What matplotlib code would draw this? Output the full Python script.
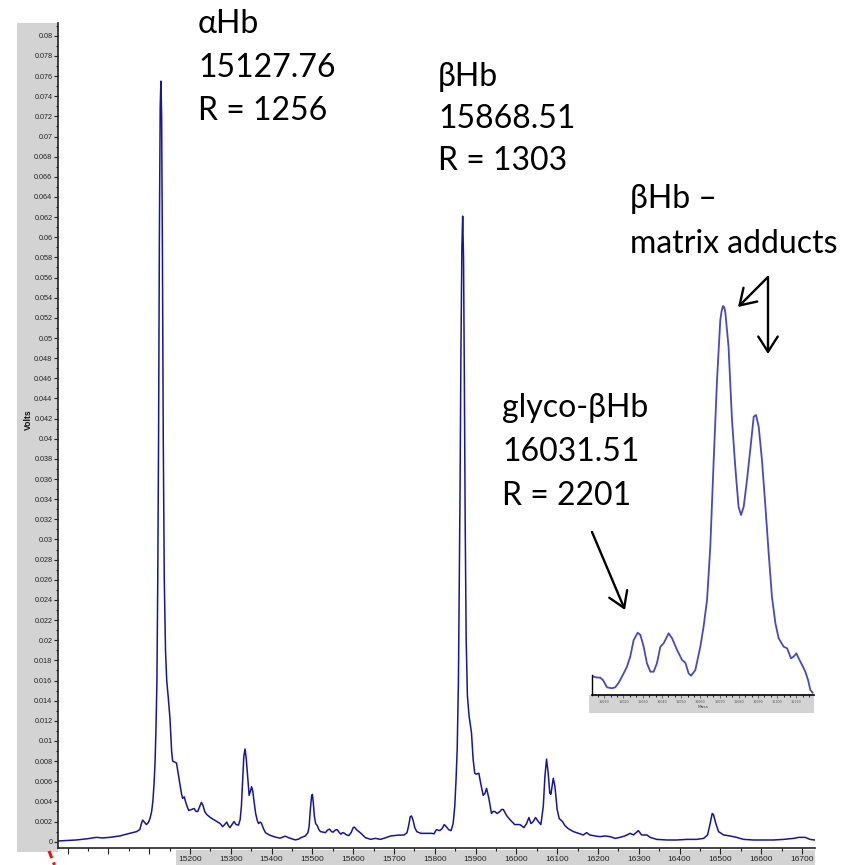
import matplotlib
matplotlib.use("Agg")
import matplotlib.pyplot as plt
from matplotlib.patches import Rectangle, FancyArrowPatch
from matplotlib.lines import Line2D
from matplotlib.ticker import MultipleLocator, FixedLocator, AutoMinorLocator, FuncFormatter

# ---------------- spectrum data (mass in Da, signal in Volts) ----------------
mass = [
    14876, 14900, 14921, 14950, 14965, 14972, 14985, 15003, 15028, 15052,
    15069, 15077, 15081, 15084, 15088, 15093, 15098, 15102, 15106, 15109,
    15112, 15114.5, 15116.5, 15119, 15121, 15123, 15125, 15127, 15128.8, 15130.5,
    15132.5, 15134.5, 15137, 15140, 15143, 15147, 15151, 15155, 15157.5, 15163,
    15167, 15171, 15175, 15179, 15182, 15186, 15189, 15193, 15197, 15204,
    15210, 15215, 15219, 15224, 15228, 15232, 15236, 15241, 15250, 15258,
    15266, 15274, 15280, 15285, 15290, 15294, 15298, 15303, 15308, 15313,
    15319, 15323, 15326, 15329, 15332, 15335, 15338, 15342, 15345, 15348,
    15351, 15354, 15357, 15361, 15365, 15368, 15372, 15375, 15380, 15385,
    15395, 15410, 15421, 15433, 15445, 15458, 15466, 15472, 15483, 15489,
    15492, 15495, 15498, 15500, 15502, 15505, 15508, 15512, 15516, 15520,
    15532, 15537, 15542, 15547, 15551, 15556, 15561, 15566, 15570, 15574,
    15578, 15583, 15589, 15595, 15600, 15603, 15608, 15614, 15620, 15630,
    15643, 15650, 15655, 15667, 15680, 15692, 15710, 15725, 15732, 15736,
    15740, 15743, 15747, 15751, 15756, 15766, 15780, 15792, 15798, 15804,
    15812, 15818, 15823, 15828, 15834, 15840, 15845, 15849, 15852, 15855,
    15858, 15860, 15862, 15864, 15866.5, 15868.4, 15870.5, 15872.5, 15874.5, 15877,
    15880, 15884, 15890, 15894, 15898, 15902, 15908, 15913, 15918.7, 15923,
    15927, 15932.6, 15939, 15943, 15947, 15953, 15959.6, 15964, 15968, 15976,
    15984, 15996, 16009, 16018.5, 16025, 16030.8, 16035.7, 16041.4, 16047, 16053.7,
    16060, 16066, 16070, 16074, 16078, 16082, 16084.6, 16090.5, 16094.5, 16100,
    16105, 16113, 16119, 16127, 16140, 16152, 16164, 16172, 16180, 16193,
    16205, 16217, 16230, 16242, 16254, 16266, 16279, 16287, 16299, 16307,
    16320, 16328, 16344, 16369, 16393, 16418, 16442, 16459, 16468.6, 16475,
    16480, 16483, 16489, 16495.6, 16508, 16524, 16540, 16557, 16581, 16606,
    16630, 16655, 16680, 16692, 16708, 16720, 16731,
]
volts = [
    0.00007, 0.00012, 0.00017, 0.00030, 0.00040, 0.00043, 0.00037, 0.00043, 0.00057, 0.00083,
    0.00100, 0.00120, 0.00180, 0.00215, 0.00195, 0.00170, 0.00190, 0.00230, 0.00300, 0.00400,
    0.00580, 0.00800, 0.01100, 0.01600, 0.02600, 0.04000, 0.06000, 0.07300, 0.07550, 0.07200,
    0.05800, 0.04000, 0.02600, 0.01900, 0.01600, 0.01420, 0.01220, 0.00900, 0.00800, 0.00790,
    0.00780, 0.00680, 0.00580, 0.00480, 0.00430, 0.00445, 0.00400, 0.00350, 0.00310, 0.00320,
    0.00330, 0.00300, 0.00300, 0.00350, 0.00390, 0.00360, 0.00300, 0.00270, 0.00240, 0.00220,
    0.00200, 0.00180, 0.00150, 0.00170, 0.00195, 0.00160, 0.00140, 0.00170, 0.00200, 0.00170,
    0.00165, 0.00220, 0.00350, 0.00600, 0.00850, 0.00920, 0.00820, 0.00620, 0.00460, 0.00500,
    0.00545, 0.00500, 0.00400, 0.00280, 0.00210, 0.00180, 0.00195, 0.00185, 0.00130, 0.00090,
    0.00065, 0.00045, 0.00035, 0.00055, 0.00035, 0.00018, 0.00025, 0.00040, 0.00058, 0.00090,
    0.00150, 0.00320, 0.00450, 0.00470, 0.00400, 0.00250, 0.00180, 0.00160, 0.00120, 0.00100,
    0.00090, 0.00115, 0.00125, 0.00100, 0.00095, 0.00115, 0.00120, 0.00090, 0.00075, 0.00090,
    0.00085, 0.00070, 0.00060, 0.00090, 0.00140, 0.00145, 0.00120, 0.00100, 0.00080, 0.00040,
    0.00023, 0.00030, 0.00033, 0.00023, 0.00040, 0.00057, 0.00065, 0.00067, 0.00090, 0.00160,
    0.00250, 0.00255, 0.00210, 0.00140, 0.00100, 0.00083, 0.00083, 0.00083, 0.00078, 0.00120,
    0.00110, 0.00130, 0.00170, 0.00150, 0.00120, 0.00110, 0.00180, 0.00350, 0.00600, 0.00920,
    0.01600, 0.02500, 0.03500, 0.04800, 0.05900, 0.06210, 0.05800, 0.04600, 0.03200, 0.02000,
    0.01450, 0.01250, 0.01080, 0.00820, 0.00680, 0.00670, 0.00680, 0.00570, 0.00460, 0.00480,
    0.00530, 0.00430, 0.00280, 0.00300, 0.00300, 0.00280, 0.00300, 0.00320, 0.00320, 0.00260,
    0.00220, 0.00170, 0.00170, 0.00140, 0.00180, 0.00240, 0.00180, 0.00200, 0.00240, 0.00200,
    0.00170, 0.00350, 0.00650, 0.00820, 0.00680, 0.00480, 0.00470, 0.00630, 0.00550, 0.00320,
    0.00230, 0.00200, 0.00160, 0.00130, 0.00100, 0.00083, 0.00067, 0.00090, 0.00067, 0.00057,
    0.00050, 0.00057, 0.00050, 0.00033, 0.00043, 0.00057, 0.00083, 0.00067, 0.00110, 0.00067,
    0.00067, 0.00043, 0.00023, 0.00017, 0.00017, 0.00023, 0.00023, 0.00033, 0.00067, 0.00180,
    0.00280, 0.00270, 0.00180, 0.00100, 0.00067, 0.00057, 0.00043, 0.00023, 0.00017, 0.00017,
    0.00017, 0.00023, 0.00033, 0.00043, 0.00043, 0.00023, 0.00017,
]

# ---------------- zoomed view of the beta-chain adduct region ----------------
zoom_mass = [
    16003.6, 16005.3, 16007.9, 16009.3, 16011.4, 16014.0, 16015.7, 16017.5, 16020.1, 16021.8,
    16023.5, 16025.3, 16027.4, 16028.8, 16030.5, 16032.2, 16034.0, 16035.7, 16037.4, 16039.2,
    16040.9, 16043.5, 16045.3, 16047.9, 16050.5, 16052.2, 16053.9, 16055.2, 16057.4, 16060.0,
    16061.7, 16063.5, 16065.2, 16066.9, 16068.7, 16070.4, 16071.1, 16071.8, 16072.4, 16073.0,
    16074.7, 16076.5, 16078.2, 16079.9, 16081.2, 16082.6, 16084.3, 16086.0, 16087.8, 16089.0,
    16090.4, 16092.1, 16093.9, 16095.6, 16097.3, 16099.1, 16100.8, 16103.4, 16105.2, 16107.2,
    16108.6, 16110.0, 16111.2, 16113.0, 16114.7, 16116.1, 16117.3, 16118.5,
]
zoom_signal = [
    19.3, 17.7, 17.3, 15.0, 7.7, 6.7, 7.7, 12.3, 21.7, 28.3,
    38.3, 55.0, 62.3, 60.0, 48.3, 31.7, 23.3, 23.3, 31.7, 48.3,
    51.7, 61.7, 56.7, 45.0, 35.0, 32.3, 21.7, 19.3, 25.0, 48.3,
    68.3, 95.0, 148.3, 231.7, 315.0, 375.0, 384.0, 389.0, 388.0, 383.0,
    348.3, 275.0, 228.3, 188.3, 180.0, 188.3, 215.0, 245.0, 278.3, 280.0,
    268.3, 235.0, 188.3, 141.7, 98.3, 71.7, 56.7, 48.3, 46.7, 36.7,
    38.3, 41.7, 36.7, 30.0, 23.3, 15.0, 5.0, 2.3,
]

# axis ticks
x_major = list(range(14900, 16701, 100))
x_tick_labels = ["", "", "", "15200", "15300", "15400", "15500", "15600", "15700",
                 "15800", "15900", "16000", "16100", "16200", "16300", "16400",
                 "16500", "16600", "16700"]
zoom_ticks = [16010, 16020, 16030, 16040, 16050, 16060, 16070, 16080, 16090, 16100, 16110]
zoom_tick_labels = [str(t) for t in zoom_ticks]

# peak annotations
label_alpha = ["\u03b1Hb", "15127.76", "R = 1256"]
label_beta = ["\u03b2Hb", "15868.51", "R = 1303"]
label_adduct = ["\u03b2Hb \u2013", "matrix adducts"]
label_glyco = ["glyco-\u03b2Hb", "16031.51", "R = 2201"]

# ------------------------------------------------------------------------------
W = H = 865
fig = plt.figure(figsize=(W / 100, H / 100), dpi=100)
fig.patch.set_facecolor("white")


def fx(px):
    return px / W


def fy(py):
    return 1 - py / H


GRAY = "#d3d3d3"
TICK_FONT = ["Liberation Sans Narrow", "Liberation Sans", "DejaVu Sans"]
TEXT_FONT = ["Lato", "DejaVu Sans"]

# gray panels behind the tick labels
fig.add_artist(Rectangle((fx(17), fy(852)), fx(58) - fx(17), fy(23) - fy(852),
                         transform=fig.transFigure, facecolor=GRAY, edgecolor="none", zorder=0))
fig.add_artist(Rectangle((fx(176), fy(865)), fx(815) - fx(176), fy(850) - fy(865),
                         transform=fig.transFigure, facecolor=GRAY, edgecolor="none", zorder=0))

# main spectrum
ax = fig.add_axes([fx(58), fy(848), fx(815) - fx(58), fy(23) - fy(848)])
ax.set_facecolor("none")
ax.plot(mass, volts, color="#16169a", lw=1.1, solid_joinstyle="round")
ax.set_xlim(14876.5, 16732)
ax.set_ylim(-0.000625, 0.08127)
for s in ("top", "right"):
    ax.spines[s].set_visible(False)
for s in ("left", "bottom"):
    ax.spines[s].set_color("#222222")
    ax.spines[s].set_linewidth(1.2)

ax.yaxis.set_major_locator(MultipleLocator(0.002))
ax.yaxis.set_minor_locator(MultipleLocator(0.001))
ax.yaxis.set_major_formatter(FuncFormatter(
    lambda v, p: ("%.3f" % v).rstrip("0").rstrip(".") if abs(v) > 1e-9 else "0"))
ax.tick_params(axis="y", which="major", length=3, width=0.8, pad=1, labelsize=5.2,
               colors="#222222")
ax.tick_params(axis="y", which="minor", length=1.5, width=0.8, colors="#222222")
for lab in ax.get_yticklabels():
    lab.set_family(TICK_FONT)

ax.xaxis.set_major_locator(FixedLocator(x_major))
ax.set_xticklabels(x_tick_labels)
ax.xaxis.set_minor_locator(MultipleLocator(50))
ax.tick_params(axis="x", which="major", length=4, width=0.8, pad=2, labelsize=6,
               colors="#222222")
ax.tick_params(axis="x", which="minor", length=2.5, width=0.8, colors="#222222")
for lab in ax.get_xticklabels():
    lab.set_family(TICK_FONT)

fig.text(fx(28), fy(420), "Volts", rotation=90, ha="center", va="center",
         fontsize=6.2, fontweight="bold", family=TICK_FONT, color="#111111")

# zoomed inset of the adduct region
fig.add_artist(Rectangle((fx(589), fy(713)), fx(814) - fx(589), fy(695) - fy(713),
                         transform=fig.transFigure, facecolor=GRAY, edgecolor="none", zorder=0))
axi = fig.add_axes([fx(592), fy(695), fx(814) - fx(592), fy(295) - fy(695)])
axi.set_facecolor("none")
axi.plot(zoom_mass, zoom_signal, color="#4848c2", lw=1.3, solid_joinstyle="round")
axi.set_xlim(16003.6, 16119.2)
axi.set_ylim(0, 400)
for s in ("top", "right"):
    axi.spines[s].set_visible(False)
axi.spines["left"].set_bounds(0, 20)
axi.spines["left"].set_linewidth(1.0)
axi.spines["bottom"].set_linewidth(1.2)
axi.set_yticks([])
axi.set_xticks(zoom_ticks)
axi.set_xticklabels(zoom_tick_labels)
axi.xaxis.set_minor_locator(AutoMinorLocator(3))
axi.tick_params(axis="x", which="major", length=2, width=0.6, pad=1.5, labelsize=2.4,
                colors="#555555")
axi.tick_params(axis="x", which="minor", length=1.2, width=0.6)
axi.set_xlabel("Mass", fontsize=3.2, labelpad=1, color="#444444")


# annotations
def text_block(lines, px, baselines, size=23):
    for line, py in zip(lines, baselines):
        fig.text(fx(px), fy(py), line, ha="left", va="baseline", fontsize=size,
                 family=TEXT_FONT, color="black")


text_block(label_alpha, 198, [33, 77, 120])
text_block(label_beta, 438, [86, 128, 170])
text_block(label_adduct, 630, [208, 253])
text_block(label_glyco, 502, [417, 461, 505])

arrow_kw = dict(arrowstyle="->,head_length=0.55,head_width=0.35", lw=1.7,
                color="black", mutation_scale=20, shrinkA=0, shrinkB=0)
for (x0, y0), (x1, y1) in [((592, 532), (625, 610)),
                           ((768, 277), (738, 307)),
                           ((768, 277), (768, 354))]:
    fig.add_artist(FancyArrowPatch((fx(x0), fy(y0)), (fx(x1), fy(y1)),
                                   transform=fig.transFigure, **arrow_kw))

# small red dashed marker below the origin
fig.add_artist(Line2D([fx(49), fx(54.5)], [fy(851), fy(865)], transform=fig.transFigure,
                      color="#ee1111", lw=2.2, linestyle=(0, (2.5, 1.5))))

fig.savefig("out.png", dpi=100)
